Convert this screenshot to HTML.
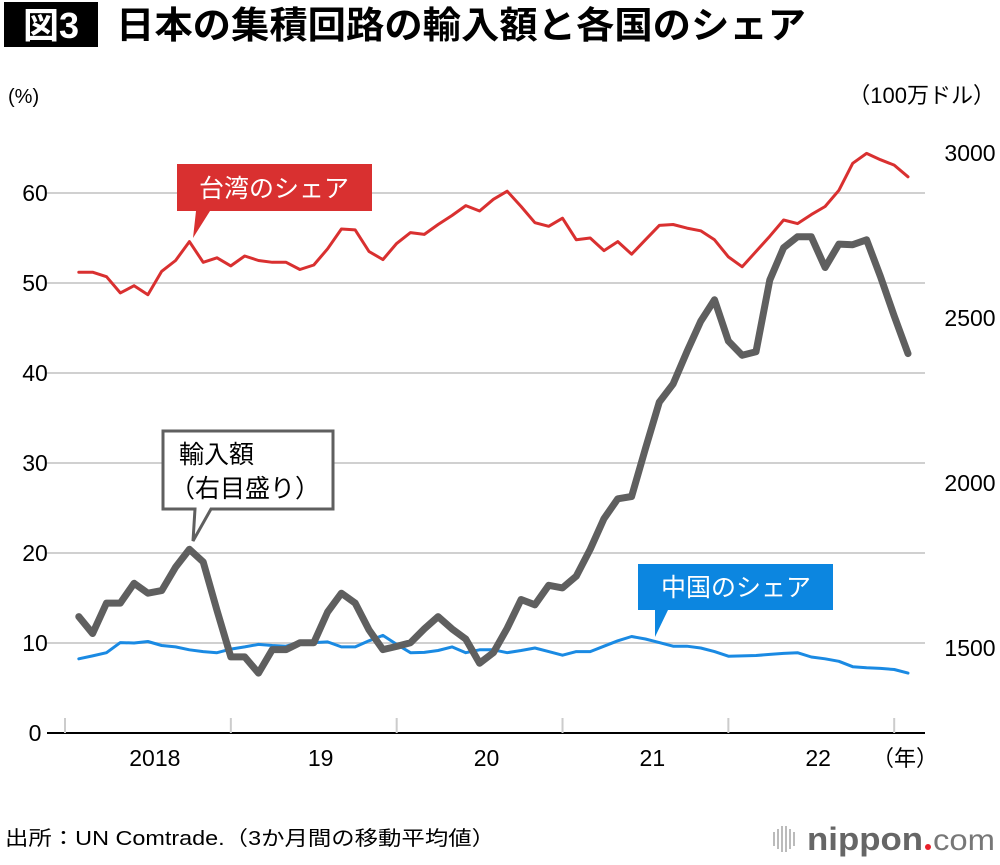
<!DOCTYPE html>
<html><head><meta charset="utf-8">
<style>
html,body{margin:0;padding:0;background:#fff;}
body{width:1000px;height:860px;overflow:hidden;font-family:"Liberation Sans","Noto Sans CJK JP",sans-serif;}
svg text{font-family:"Liberation Sans","Noto Sans CJK JP",sans-serif;}
</style></head>
<body>
<svg id="chart" width="1000" height="860" viewBox="0 0 1000 860">
  <rect x="4" y="2" width="94" height="45" fill="#000"/>
  <text x="51" y="38" font-size="36" font-weight="bold" fill="#fff" text-anchor="middle">図3</text>
  <text x="116" y="38" font-size="37" font-weight="bold" fill="#000" textLength="690" lengthAdjust="spacingAndGlyphs">日本の集積回路の輸入額と各国のシェア</text>
  <text x="8" y="103" font-size="20" fill="#000">(%)</text>
  <text x="995" y="103" font-size="22" fill="#000" text-anchor="end">（100万ドル）</text>
  <g id="grid"></g>
  <g id="xaxis"></g>
  <g id="series"></g>
  <g>
    <path d="M177,164 H372 V211 H210 L193,238 L196,211 H177 Z" fill="#d93030"/>
    <text x="274" y="197" font-size="25" fill="#fff" text-anchor="middle">台湾のシェア</text>
  </g>
  <g>
    <path d="M163,431 H333 V509 H211 L193,541 L195,509 H163 Z" fill="#fff" stroke="#5f5f5f" stroke-width="3"/>
    <text x="179" y="463" font-size="25" fill="#000">輸入額</text>
    <text x="170" y="497" font-size="25" fill="#000">（右目盛り）</text>
  </g>
  <g>
    <path d="M638,564 H833 V610 H668 L655,637 L655,610 H638 Z" fill="#0c86e0"/>
    <text x="736" y="596" font-size="25" fill="#fff" text-anchor="middle">中国のシェア</text>
  </g>
  <text x="5" y="845" font-size="20" fill="#000" textLength="490" lengthAdjust="spacingAndGlyphs">出所：UN Comtrade.（3か月間の移動平均値）</text>
  <g>
    <g fill="#bbb">
      <rect x="773" y="832" width="2" height="14"/><rect x="777" y="829" width="2" height="20"/>
      <rect x="781" y="826" width="2" height="26"/><rect x="785" y="826" width="2" height="26"/>
      <rect x="789" y="829" width="2" height="20"/><rect x="793" y="832" width="2" height="14"/>
    </g>
    <text x="807" y="850" font-size="32" font-weight="bold" fill="#666" textLength="116" lengthAdjust="spacingAndGlyphs">nippon</text>
    <circle cx="928" cy="847" r="3" fill="#e8202a"/>
    <text x="933" y="850" font-size="30" fill="#777" textLength="62" lengthAdjust="spacingAndGlyphs">com</text>
  </g>
</svg>
<script>
const leftTicks = [0,10,20,30,40,50,60];
const rightTicks = [1500,2000,2500,3000];
const yearLabels = ['2018','19','20','21','22'];
const taiwanShare = [51.2,51.2,50.7,48.9,49.7,48.7,51.3,52.5,54.6,52.3,52.8,51.9,53.0,52.5,52.3,52.3,51.5,52.0,53.8,56.0,55.9,53.5,52.6,54.4,55.6,55.4,56.5,57.5,58.6,58.0,59.3,60.2,58.5,56.7,56.3,57.2,54.8,55.0,53.6,54.6,53.2,54.8,56.4,56.5,56.1,55.8,54.8,52.9,51.8,53.5,55.2,57.0,56.6,57.6,58.5,60.3,63.3,64.4,63.7,63.1,61.8];
const chinaShare = [8.24,8.57,8.92,10.04,10.0,10.17,9.72,9.57,9.24,9.04,8.92,9.32,9.57,9.85,9.72,9.64,10.12,10.04,10.12,9.57,9.57,10.24,10.84,9.85,8.92,8.96,9.17,9.57,8.92,9.24,9.24,8.92,9.17,9.44,9.04,8.64,9.04,9.04,9.64,10.24,10.72,10.44,10.04,9.64,9.64,9.44,9.04,8.53,8.57,8.61,8.73,8.84,8.92,8.44,8.24,7.97,7.37,7.25,7.18,7.05,6.65];
const importValue = [1595,1544,1636,1636,1696,1666,1674,1745,1799,1761,1614,1473,1473,1424,1495,1495,1516,1516,1609,1666,1636,1555,1495,1505,1516,1558,1595,1558,1527,1454,1486,1560,1647,1631,1690,1682,1718,1799,1892,1952,1959,2104,2245,2300,2398,2490,2555,2430,2387,2398,2615,2713,2746,2746,2653,2724,2722,2737,2626,2506,2392];

const NS='http://www.w3.org/2000/svg';
function xPos(m){return 65+(m+1)*13.82;}
function yLeft(v){return 733-v*9;}
function yRight(v){return 648-(v-1500)*0.33;}
function mk(tag,attrs,parent){const e=document.createElementNS(NS,tag);for(const k in attrs)e.setAttribute(k,attrs[k]);parent.appendChild(e);return e;}

const grid=document.getElementById('grid');
leftTicks.forEach(t=>{
  if(t>0){
    const l=mk('line',{x1:47,x2:925,y1:yLeft(t),y2:yLeft(t),stroke:'#d0d0d0','stroke-width':2},grid);
    
    
  }
  const tx=mk('text',{x:35,y:yLeft(t)+8,'font-size':23,'text-anchor':'middle',fill:'#000'},grid);
  tx.textContent=t;
  
  
});
rightTicks.forEach(t=>{
  const tx=mk('text',{x:970,y:yRight(t)+8,'font-size':23,'text-anchor':'middle',fill:'#000'},grid);
  tx.textContent=t;
  
  
});
const xa=document.getElementById('xaxis');
const ax=mk('line',{x1:47,x2:925,y1:733,y2:733,stroke:'#000','stroke-width':2},xa);


for(let y=0;y<=5;y++){
  const tk=mk('line',{x1:xPos(y*12-1),x2:xPos(y*12-1),y1:718,y2:733,stroke:'#ccc','stroke-width':2},xa);
  
  
}
yearLabels.forEach((lab,i)=>{
  const tx=mk('text',{x:xPos(i*12+5.5),y:766,'font-size':23,'text-anchor':'middle',fill:'#000'},xa);
  tx.textContent=lab;
  
  
});
const yr=mk('text',{x:905,y:766,'font-size':22,'text-anchor':'middle',fill:'#000'},xa);
yr.textContent='（年）';



const sg=document.getElementById('series');
function line(data,yf,color,w,name){
  const pts=data.map((v,i)=>xPos(i).toFixed(1)+','+yf(v).toFixed(1)).join(' ');
  const p=mk('polyline',{points:pts,fill:'none',stroke:color,'stroke-width':w,'stroke-linejoin':'round','stroke-linecap':'round'},sg);
  
  
}
line(chinaShare,yLeft,'#1a8ae3',3,'china-share-line');
line(importValue,yRight,'#5f5f5f',7,'import-value-line');
line(taiwanShare,yLeft,'#d93030',3,'taiwan-share-line');
</script>
</body></html>
